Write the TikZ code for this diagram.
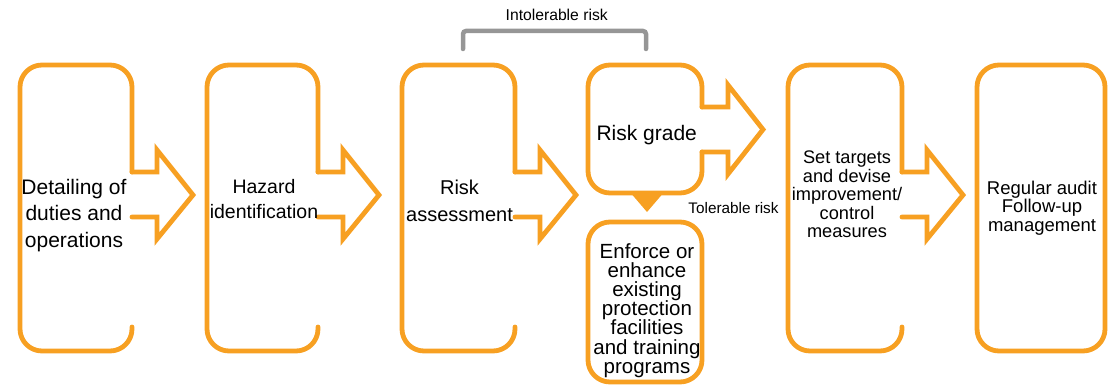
\documentclass[tikz,border=0pt]{standalone}
\usepackage{fontspec}
\setmainfont{Liberation Sans}
\definecolor{org}{RGB}{247,160,34}
\definecolor{grayline}{RGB}{150,150,150}
\tikzset{
  box/.style={draw=org, line width=4.8pt, line cap=round, line join=round, rounded corners=22pt},
  arr/.style={draw=org, line width=4.8pt, line cap=round, line join=miter},
  lbl/.style={anchor=north, inner sep=0pt, align=center, text=black},
}
\newcommand\procshape[2]{%
  \draw[box] (#2,327) -- (#2,351) -- (#1,351) -- (#1,65) -- (#2,65) -- (#2,172);
  \draw[arr] (#2,172) -- ({#2+25},172) -- ({#2+25},150) -- ({#2+61},195) -- ({#2+25},239) -- ({#2+25},217) -- (#2,217);
}
\begin{document}
\begin{tikzpicture}[x=1pt,y=-1pt]
\useasboundingbox (0,0) rectangle (1113,385);
% process shapes with arrows
\procshape{20}{132}
\procshape{207}{318}
\procshape{402}{515}
\procshape{788}{902}
% risk grade shape
\draw[box] (702,152) -- (702,193) -- (588,193) -- (588,65) -- (702,65) -- (702,107);
\draw[arr] (702,107) -- (728,107) -- (728,85) -- (763,129.5) -- (728,174) -- (728,152) -- (702,152);
\fill[org] (629,191) -- (665,191) -- (647,212) -- cycle;
% enforce box
\draw[box] (588,222) rectangle (702,382);
% final box
\draw[box] (977,65) rectangle (1105,351);
% intolerable bracket
\draw[grayline, line width=4.5pt, line cap=round, rounded corners=3pt] (463,49) -- (463,31) -- (646,31) -- (646,49);
% labels
\node[lbl, font=\fontsize{21}{26.5}\selectfont] (t1) at (74,178.7) {Detailing of\\duties and\\operations};
\node[lbl, font=\fontsize{19.5}{25}\selectfont] (t2) at (264,178.8) {Hazard\\identification};
\node[lbl, font=\fontsize{20}{27}\selectfont] (t3) at (459.5,179.4) {Risk\\assessment};
\node[lbl, font=\fontsize{21}{25}\selectfont] (t4) at (646.7,124.7) {Risk grade};
\node[lbl, font=\fontsize{20.5}{19.2}\selectfont] (t5) at (647,243) {Enforce or\\enhance\\existing\\protection\\facilities\\and training\\programs};
\node[lbl, font=\fontsize{18.2}{18.5}\selectfont] (t6) at (847,150.7) {Set targets\\and devise\\improvement/\\control\\measures};
\node[lbl, font=\fontsize{18.5}{18.8}\selectfont] (t7) at (1042,180.5) {Regular audit\\Follow-up\\management};
\node[lbl, font=\fontsize{15.7}{18}\selectfont] (intol) at (556.7,9.2) {Intolerable risk};
\node[lbl, font=\fontsize{15.3}{18}\selectfont] (tol) at (733.5,202) {Tolerable risk};
\end{tikzpicture}
\end{document}
